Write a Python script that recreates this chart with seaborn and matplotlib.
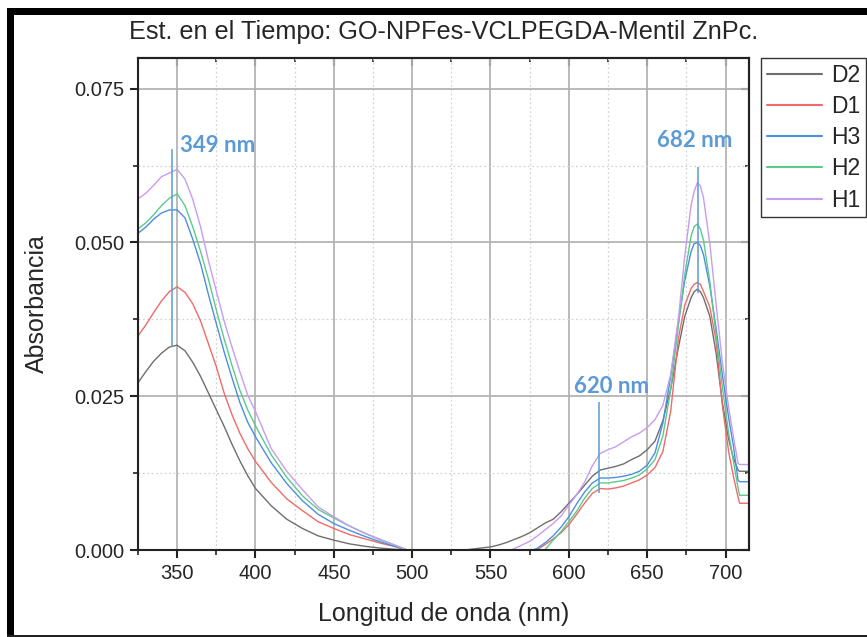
import numpy as np
import pandas as pd
import matplotlib
matplotlib.use("Agg")
import matplotlib.pyplot as plt
from matplotlib.patches import Rectangle
from matplotlib.ticker import MultipleLocator, FormatStrFormatter
import seaborn as sns

# ---------------- data ----------------
wavelength = [325, 330, 335, 340, 345, 350, 355, 360, 365, 370, 375, 380, 385, 390, 395, 400,
              410, 420, 430, 440, 450, 460, 470, 480, 490, 500, 510, 520, 530, 540, 550,
              555, 560, 565, 570, 575, 580, 585, 590, 595, 600, 605, 610, 615, 620, 625, 630,
              635, 640, 645, 650, 655, 660, 665, 670, 674, 678, 680, 682, 684, 686, 690, 694,
              698, 702, 705, 708, 709, 715]

D2 = [0.0272, 0.0290, 0.0307, 0.0320, 0.0330, 0.0333, 0.0324, 0.0305, 0.0282, 0.0255, 0.0228, 0.0201, 0.0172, 0.0145, 0.0121, 0.0100,
      0.0072, 0.0050, 0.0035, 0.0023, 0.0016, 0.0010, 0.0006, 0.0003, 0.0001, 0.0000, -0.0001, -0.0001, -0.0001, 0.0002, 0.0005,
      0.0008, 0.0012, 0.0017, 0.0022, 0.0028, 0.0036, 0.0044, 0.0050, 0.0062, 0.0076, 0.0090, 0.0105, 0.0120, 0.0130, 0.0133, 0.0136,
      0.0140, 0.0147, 0.0153, 0.0163, 0.0177, 0.0210, 0.0262, 0.0330, 0.0380, 0.0410, 0.0420, 0.0424, 0.0420, 0.0410, 0.0380, 0.0320,
      0.0240, 0.0180, 0.0150, 0.0130, 0.0128, 0.0128]

D1 = [0.0348, 0.0366, 0.0386, 0.0405, 0.0420, 0.0428, 0.0419, 0.0400, 0.0372, 0.0335, 0.0298, 0.0255, 0.0220, 0.0190, 0.0165, 0.0144,
      0.0110, 0.0083, 0.0064, 0.0046, 0.0035, 0.0025, 0.0018, 0.0011, 0.0005, -0.0003, -0.0010, -0.0013, -0.0014, -0.0014, -0.0012,
      -0.0010, -0.0008, -0.0006, -0.0004, -0.0002, 0.0001, 0.0009, 0.0018, 0.0028, 0.0041, 0.0058, 0.0076, 0.0092, 0.0100, 0.0099, 0.0101,
      0.0104, 0.0109, 0.0114, 0.0122, 0.0134, 0.0160, 0.0225, 0.0345, 0.0398, 0.0425, 0.0432, 0.0435, 0.0432, 0.0420, 0.0395, 0.0340,
      0.0235, 0.0160, 0.0120, 0.0086, 0.0076, 0.0076]

H3 = [0.0515, 0.0525, 0.0538, 0.0548, 0.0553, 0.0553, 0.0540, 0.0505, 0.0465, 0.0415, 0.0368, 0.0322, 0.0280, 0.0240, 0.0208, 0.0184,
      0.0142, 0.0108, 0.0080, 0.0058, 0.0043, 0.0032, 0.0022, 0.0013, 0.0005, -0.0003, -0.0010, -0.0014, -0.0015, -0.0015, -0.0013,
      -0.0011, -0.0009, -0.0007, -0.0005, -0.0002, 0.0003, 0.0012, 0.0023, 0.0037, 0.0054, 0.0075, 0.0094, 0.0109, 0.0117, 0.0117, 0.0118,
      0.0120, 0.0123, 0.0128, 0.0138, 0.0158, 0.0206, 0.0282, 0.0371, 0.0438, 0.0485, 0.0498, 0.0500, 0.0495, 0.0480, 0.0429, 0.0360,
      0.0285, 0.0215, 0.0170, 0.0114, 0.0111, 0.0111]

H2 = [0.0522, 0.0532, 0.0545, 0.0560, 0.0572, 0.0579, 0.0560, 0.0525, 0.0485, 0.0440, 0.0390, 0.0343, 0.0300, 0.0260, 0.0228, 0.0202,
      0.0155, 0.0118, 0.0088, 0.0066, 0.0052, 0.0039, 0.0027, 0.0016, 0.0007, -0.0003, -0.0012, -0.0016, -0.0018, -0.0018, -0.0016,
      -0.0014, -0.0012, -0.0010, -0.0008, -0.0005, -0.0002, 0.0001, 0.0016, 0.0030, 0.0046, 0.0063, 0.0084, 0.0100, 0.0109, 0.0109, 0.0111,
      0.0113, 0.0117, 0.0122, 0.0132, 0.0147, 0.0185, 0.0260, 0.0366, 0.0448, 0.0510, 0.0526, 0.0530, 0.0522, 0.0503, 0.0436, 0.0350,
      0.0265, 0.0190, 0.0145, 0.0101, 0.0089, 0.0089]

H1 = [0.0571, 0.0580, 0.0593, 0.0607, 0.0613, 0.0619, 0.0603, 0.0570, 0.0525, 0.0470, 0.0421, 0.0372, 0.0330, 0.0290, 0.0252, 0.0225,
      0.0165, 0.0128, 0.0098, 0.0070, 0.0054, 0.0039, 0.0027, 0.0017, 0.0007, -0.0003, -0.0010, -0.0012, -0.0012, -0.0010, -0.0008,
      -0.0006, -0.0003, 0.0002, 0.0008, 0.0014, 0.0023, 0.0033, 0.0043, 0.0055, 0.0073, 0.0090, 0.0110, 0.0137, 0.0157, 0.0163, 0.0168,
      0.0176, 0.0184, 0.0190, 0.0199, 0.0212, 0.0235, 0.0285, 0.0378, 0.0478, 0.0560, 0.0583, 0.0597, 0.0592, 0.0572, 0.0498, 0.0400,
      0.0305, 0.0232, 0.0185, 0.0141, 0.0139, 0.0139]

series_names = ["D2", "D1", "H3", "H2", "H1"]
series_colors = ["#6e6e6e", "#f06a6a", "#4a8fe0", "#5cc98a", "#c89cf0"]

peak_labels = ["349 nm", "620 nm", "682 nm"]
peak_x = [346.5, 619.0, 682.7]
peak_ymin = [0.0330, 0.0093, 0.0418]
peak_ymax = [0.0652, 0.0241, 0.0623]
label_x = [352.0, 603.5, 656.0]
label_y = [0.0647, 0.0256, 0.0656]

title = "Est. en el Tiempo: GO-NPFes-VCLPEGDA-Mentil ZnPc."
xlabel = "Longitud de onda (nm)"
ylabel = "Absorbancia"

# ---------------- build long table ----------------
frames = []
for name, vals in zip(series_names, [D2, D1, H3, H2, H1]):
    frames.append(pd.DataFrame({"wl": wavelength, "abs": vals, "Muestra": name}))
df = pd.concat(frames, ignore_index=True)

sns.set_style("white")
plt.rcParams["font.family"] = ["Liberation Sans", "DejaVu Sans"]

W, H = 867, 637
fig = plt.figure(figsize=(W / 100, H / 100), dpi=100)
ax = fig.add_axes([138 / W, 1 - 550 / H, (749 - 138) / W, (550 - 58) / H])

palette = dict(zip(series_names, series_colors))
sns.lineplot(data=df, x="wl", y="abs", hue="Muestra", hue_order=series_names,
             palette=palette, estimator=None, sort=False, linewidth=1.0, ax=ax)

ax.set_xlim(325, 715)
ax.set_ylim(0, 0.080)

ax.xaxis.set_major_locator(MultipleLocator(50))
ax.xaxis.set_minor_locator(MultipleLocator(25))
ax.yaxis.set_major_locator(MultipleLocator(0.025))
ax.yaxis.set_minor_locator(MultipleLocator(0.0125))
ax.yaxis.set_major_formatter(FormatStrFormatter("%.3f"))

ax.grid(which="major", color="#b4b4b4", linewidth=1.3, linestyle="-")
ax.grid(which="minor", color="#d4d4d4", linewidth=0.9, linestyle=(0, (1.5, 2.0)))
ax.set_axisbelow(True)

for s in ax.spines.values():
    s.set_color("#222222")
    s.set_linewidth(1.5)
    s.set_visible(True)

ax.tick_params(which="major", direction="out", length=6, width=1.5, color="#222222",
               labelsize=14.5, pad=4, bottom=True, left=True, top=False, right=False)
ax.tick_params(which="minor", direction="out", length=3.5, width=1.2, color="#222222",
               bottom=True, left=True, top=False, right=False)

# inward ticks on top / right
secx = ax.secondary_xaxis("top")
secx.xaxis.set_major_locator(MultipleLocator(50))
secx.xaxis.set_minor_locator(MultipleLocator(25))
secx.tick_params(which="major", direction="in", length=6, width=1.5, labeltop=False, color="#222222")
secx.tick_params(which="minor", direction="in", length=3, width=1.2, color="#222222")
secx.spines["top"].set_linewidth(1.5)
secy = ax.secondary_yaxis("right")
secy.yaxis.set_major_locator(MultipleLocator(0.025))
secy.yaxis.set_minor_locator(MultipleLocator(0.0125))
secy.tick_params(which="major", direction="in", length=6, width=1.5, labelright=False, color="#222222")
secy.tick_params(which="minor", direction="in", length=3, width=1.2, color="#222222")
secy.spines["right"].set_linewidth(1.5)

ax.set_xlabel(xlabel, fontsize=18, labelpad=14)
ax.set_ylabel(ylabel, fontsize=18, labelpad=18)
ax.set_title(title, fontsize=18.2, pad=14)

# peak markers
ann_color = "#5b9bd5"
for px, y0, y1 in zip(peak_x, peak_ymin, peak_ymax):
    ax.vlines(px, y0, y1, color=ann_color, linewidth=1.1, zorder=5)
for lx, ly, txt in zip(label_x, label_y, peak_labels):
    ax.text(lx, ly, txt, color=ann_color, fontsize=16, fontweight="bold",
            family=["Lato", "DejaVu Sans"], ha="left", va="baseline", zorder=6)

# legend
handles, labels = ax.get_legend_handles_labels()
ax.get_legend().remove()
leg = fig.legend(handles, labels, loc="upper left", bbox_to_anchor=(761 / W, 1 - 58 / H),
                 bbox_transform=fig.transFigure, borderaxespad=0, fontsize=16.5,
                 frameon=True, fancybox=False, edgecolor="#333333", framealpha=1,
                 handlelength=2.4, handletextpad=0.4, labelspacing=0.36, borderpad=0.25)
leg.get_frame().set_linewidth(1.0)
for lh in leg.get_lines():
    lh.set_linewidth(1.5)

# outer black frame
fig.add_artist(Rectangle((7 / W, 0), 7 / W, 1 - 8 / H, transform=fig.transFigure,
                         facecolor="black", edgecolor="none"))
fig.add_artist(Rectangle((7 / W, 1 - 15 / H), 1 - 7 / W, 7 / H, transform=fig.transFigure,
                         facecolor="black", edgecolor="none"))
fig.add_artist(Rectangle((7 / W, 1 - 637 / H), 1 - 7 / W, 2 / H, transform=fig.transFigure,
                         facecolor="#222222", edgecolor="none"))

fig.savefig("out.png", dpi=100)
